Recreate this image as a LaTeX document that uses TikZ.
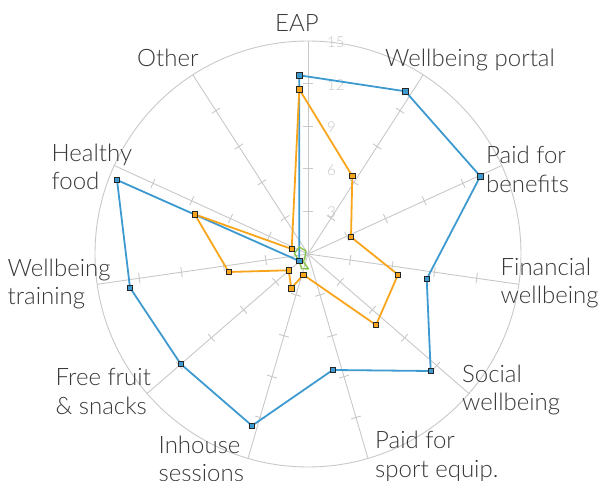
\documentclass[tikz,border=0pt]{standalone}
\usepackage{fontspec}
\setmainfont{Lato Light}
\usetikzlibrary{calc}
\definecolor{gridc}{HTML}{C8C8C8}
\definecolor{blueS}{HTML}{3D9AD1}
\definecolor{orangeS}{HTML}{F8A51C}
\definecolor{greenS}{HTML}{86C34A}
\definecolor{txt}{HTML}{383838}
\definecolor{ticklab}{HTML}{C4C4C4}
\begin{document}
\begin{tikzpicture}[x=1pt,y=-1pt,
  gridline/.style={draw=gridc, line width=0.9pt},
  series/.style={line width=1.8pt, line join=round},
  marker/.style={rectangle, draw=black!85, line width=0.8pt, minimum size=5.5pt, inner sep=0pt},
  axlabel/.style={font=\fontsize{24}{28.5}\selectfont, text=txt, align=left, anchor=base west, inner sep=0pt},
  ticklabel/.style={font=\fontsize{15}{18}\selectfont, text=ticklab, anchor=west, inner sep=0pt}]
\useasboundingbox (0,0) rectangle (598,481);
\coordinate (G) at (308,254);
% grid
\draw[gridline] (G) circle[radius=213];
\foreach \k in {0,...,10}{
  \pgfmathsetmacro\ang{\k*360/11-90}
  \draw[gridline] (G) -- ($(G)+(\ang:213)$);
  \foreach \v in {1,2,3,4}{
    \draw[gridline] ($(G)+(\ang:\v*42.6)+(\ang+90:5)$) -- ($(G)+(\ang:\v*42.6)+(\ang-90:5)$);
  }
}
% tick labels
\node[ticklabel] (t15) at (327,42.5) {15};
\node[ticklabel] (t12) at (327,85.5) {12};
\node[ticklabel] (t9) at (327,127.5) {9};
\node[ticklabel] (t6) at (327,170) {6};
\node[ticklabel] (t3) at (327,212.5) {3};
% axis labels (base anchor = baseline of last line)
\node[axlabel] (lEAP) at (275,32) {EAP};
\node[axlabel] (lportal) at (385,66.7) {Wellbeing portal};
\node[axlabel] (lbenefits) at (486,192.3) {Paid for\\benefits};
\node[axlabel] (lfinancial) at (500.5,304) {Financial\\wellbeing};
\node[axlabel] (lsocial) at (462,411) {Social\\wellbeing};
\node[axlabel] (lsport) at (375,477.5) {Paid for\\sport equip.};
\node[axlabel] (linhouse) at (158.5,481.8) {Inhouse\\sessions};
\node[axlabel] (lfruit) at (55.5,414.5) {Free fruit\\\& snacks};
\node[axlabel] (ltraining) at (7.5,305) {Wellbeing\\training};
\node[axlabel] (lhealthy) at (51.5,190) {Healthy\\food};
\node[axlabel] (lother) at (137,66.7) {Other};
% blue series
\coordinate (b1) at (299.3,75.3);
\coordinate (b2) at (405.3,91.3);
\coordinate (b3) at (480.3,176.3);
\coordinate (b4) at (426.7,279);
\coordinate (b5) at (430.7,371);
\coordinate (b6) at (332.7,370);
\coordinate (b7) at (252,425.7);
\coordinate (b8) at (180.7,364);
\coordinate (b9) at (130,287.7);
\coordinate (b10) at (117,180);
\coordinate (b11) at (299.3,261);
% orange series
\coordinate (o1) at (299.3,89.3);
\coordinate (o2) at (352.3,176);
\coordinate (o3) at (351,237);
\coordinate (o4) at (398,274.7);
\coordinate (o5) at (376,325);
\coordinate (o6) at (303.3,274.7);
\coordinate (o7) at (291.3,288.3);
\coordinate (o8) at (288.7,270.3);
\coordinate (o9) at (228.7,272);
\coordinate (o10) at (194.7,214.3);
\coordinate (o11) at (291.7,249);
% green series
\coordinate (g1) at (299.3,247);
\coordinate (g2) at (305.8,250.9);
\coordinate (g3) at (304.8,258.5);
\coordinate (g4) at (303.3,261.6);
\coordinate (g5) at (308.4,268.9);
\coordinate (g6) at (301.6,268.7);
\coordinate (g7) at (299.3,261);
\coordinate (g8) at (294.4,253.4);
\draw[series, blueS] (b1) -- (b2) -- (b3) -- (b4) -- (b5) -- (b6) -- (b7) -- (b8) -- (b9) -- (b10) -- (b11) -- cycle;
\draw[series, orangeS] (o1) -- (o2) -- (o3) -- (o4) -- (o5) -- (o6) -- (o7) -- (o8) -- (o9) -- (o10) -- (o11) -- cycle;
\draw[line width=1.4pt, greenS, line join=round] (g1) -- (g2) -- (g3) -- (g4) -- (g5) -- (g6) -- (g7) -- (g8) -- cycle;
\foreach \p in {b1,b2,b3,b4,b5,b6,b7,b8,b9,b10,b11}{
  \node[marker, fill=blueS] (m\p) at (\p) {};
}
\foreach \p in {o1,o2,o3,o4,o5,o6,o7,o8,o9,o10,o11}{
  \node[marker, fill=orangeS] (m\p) at (\p) {};
}
\end{tikzpicture}
\end{document}
